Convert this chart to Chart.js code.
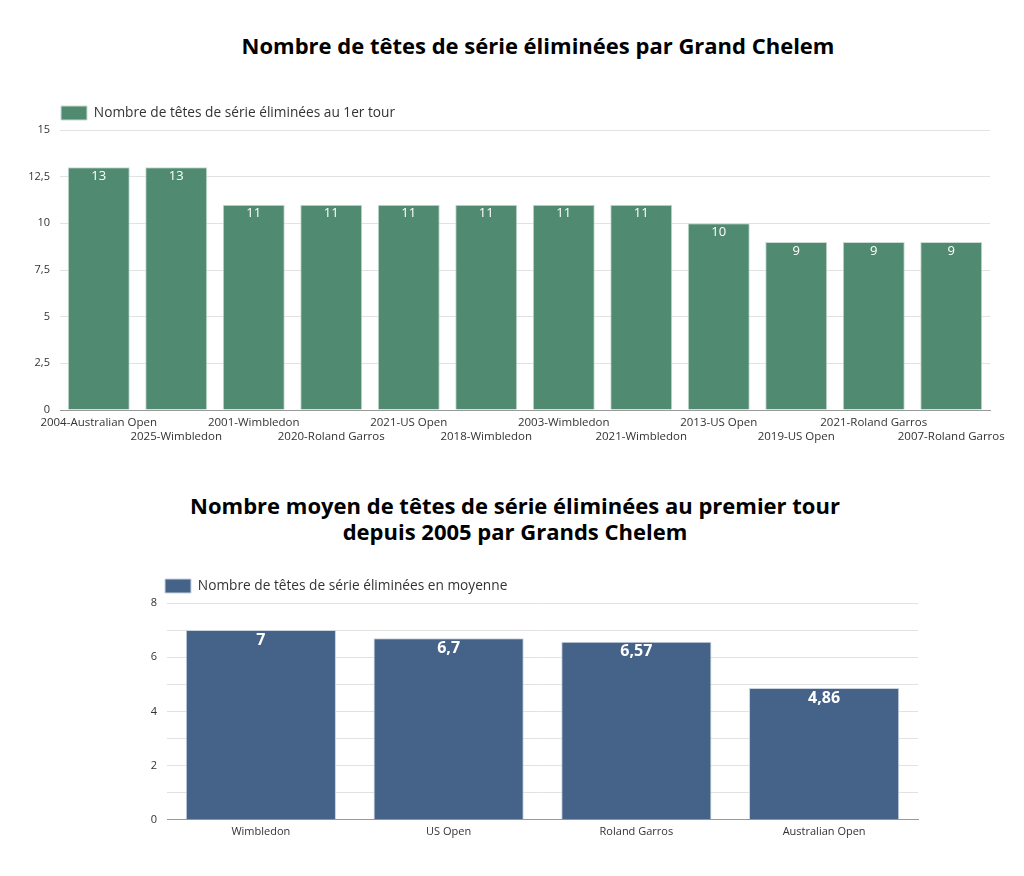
<!DOCTYPE html>
<html>
<head>
<meta charset="utf-8">
<script src="https://cdn.jsdelivr.net/npm/chart.js@4"></script>
<style>
  body { margin: 0; background: #fff; font-family: "Open Sans", sans-serif; }
  .title { position: absolute; left: 0; width: 1024px; text-align: center; font-weight: 700; font-size: 22px; color: #000; line-height: 26px; }
  .box { position: absolute; left: 0; width: 1024px; }
</style>
</head>
<body>
<div class="title" style="top:32px; left:26px;">Nombre de têtes de série éliminées par Grand Chelem</div>
<div class="box" style="top:88px; height:366px;"><canvas id="c1"></canvas></div>
<div class="title" style="top:492px; left:3px;">Nombre moyen de têtes de série éliminées au premier tour<br>depuis 2005 par Grands Chelem</div>
<div class="box" style="top:563px; height:284px;"><canvas id="c2"></canvas></div>
<script>
const tournaments = [
  "2004-Australian Open", "2025-Wimbledon", "2001-Wimbledon", "2020-Roland Garros",
  "2021-US Open", "2018-Wimbledon", "2003-Wimbledon", "2021-Wimbledon",
  "2013-US Open", "2019-US Open", "2021-Roland Garros", "2007-Roland Garros"
];
const firstRoundSeeds = [13, 13, 11, 11, 11, 11, 11, 11, 10, 9, 9, 9];

const slams = ["Wimbledon", "US Open", "Roland Garros", "Australian Open"];
const averageSeeds = [7, 6.7, 6.57, 4.86];

const FONT = "'Open Sans', sans-serif";
Chart.defaults.font.family = FONT;
Chart.defaults.color = "#333";

// draws the value inside the top of each bar
const barValues = {
  id: "barValues",
  afterDatasetsDraw(chart, args, opts) {
    const ctx = chart.ctx;
    const meta = chart.getDatasetMeta(0);
    ctx.save();
    ctx.fillStyle = "#fff";
    ctx.font = opts.font;
    ctx.textAlign = "center";
    ctx.textBaseline = "middle";
    meta.data.forEach((bar, i) => {
      const v = chart.data.datasets[0].data[i];
      ctx.fillText(v.toLocaleString("fr-FR"), bar.x, bar.y + opts.offset);
    });
    ctx.restore();
  }
};

// line the legend up with the left edge of the plot instead of the canvas
const legendShift = {
  id: "legendShift",
  beforeDraw(chart, args, opts) {
    const lg = chart.legend;
    const dx = chart.chartArea.left + (opts.dx || 0) - (lg.left + lg.options.labels.padding);
    lg.left += dx;
    lg.right += dx;
  }
};

// stagger the x labels on two rows
const staggered = tournaments.map((t, i) => (i % 2 ? ["", t] : [t, ""]));

new Chart(document.getElementById("c1"), {
  type: "bar",
  data: {
    labels: staggered,
    datasets: [{
      label: "Nombre de têtes de série éliminées au 1er tour",
      data: firstRoundSeeds,
      backgroundColor: "#508b71",
      borderColor: "#c9dbd2",
      borderWidth: 1,
      categoryPercentage: 0.8,
      barPercentage: 1
    }]
  },
  options: {
    locale: "fr-FR",
    responsive: true,
    maintainAspectRatio: false,
    animation: false,
    layout: { padding: { left: 20, right: 34, top: 8, bottom: 4 } },
    scales: {
      y: {
        min: 0, max: 15,
        ticks: { stepSize: 2.5, padding: 10, font: { size: 11 }, color: "#333" },
        grid: { color: "#e2e2e2", drawTicks: false },
        border: { display: false },
        afterFit(scale) { scale.width = 40; }
      },
      x: {
        ticks: { autoSkip: false, maxRotation: 0, minRotation: 0, font: { size: 11.5, lineHeight: "14px" }, color: "#333", padding: 6 },
        grid: { display: false, drawTicks: false },
        border: { color: "#999" }
      }
    },
    plugins: {
      legend: {
        align: "start",
        labels: { boxWidth: 26, boxHeight: 14, padding: 10, font: { size: 13.7 }, color: "#333" }
      },
      tooltip: { enabled: false },
      legendShift: { dx: 1 },
      barValues: { font: "13px " + FONT, offset: 9 }
    }
  },
  plugins: [barValues, legendShift]
});

new Chart(document.getElementById("c2"), {
  type: "bar",
  data: {
    labels: slams,
    datasets: [{
      label: "Nombre de têtes de série éliminées en moyenne",
      data: averageSeeds,
      backgroundColor: "#456289",
      borderColor: "#cbd3de",
      borderWidth: 1,
      categoryPercentage: 0.8,
      barPercentage: 1
    }]
  },
  options: {
    locale: "fr-FR",
    responsive: true,
    maintainAspectRatio: false,
    animation: false,
    layout: { padding: { left: 127, right: 106, top: 8, bottom: 4 } },
    scales: {
      y: {
        min: 0, max: 8,
        ticks: {
          stepSize: 1, padding: 10, font: { size: 11 }, color: "#333",
          callback: (v) => (v % 2 === 0 ? v : "")
        },
        grid: { color: "#e2e2e2", drawTicks: false },
        border: { display: false },
        afterFit(scale) { scale.width = 40; }
      },
      x: {
        ticks: { maxRotation: 0, font: { size: 11 }, color: "#333", padding: 5 },
        grid: { display: false, drawTicks: false },
        border: { color: "#999" }
      }
    },
    plugins: {
      legend: {
        align: "start",
        labels: { boxWidth: 26, boxHeight: 14, padding: 8, font: { size: 13.7 }, color: "#333" }
      },
      tooltip: { enabled: false },
      legendShift: { dx: -2 },
      barValues: { font: "bold 16px " + FONT, offset: 10 }
    }
  },
  plugins: [barValues, legendShift]
});
</script>
</body>
</html>
